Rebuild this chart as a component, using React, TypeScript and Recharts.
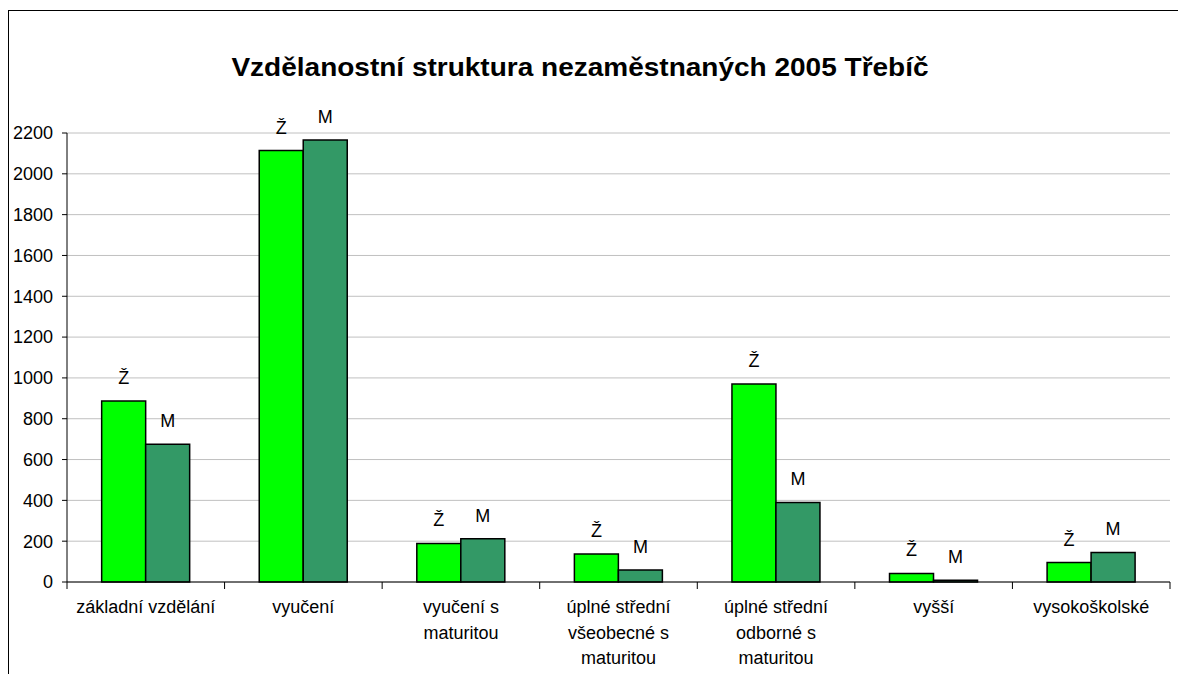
import { BarChart, Bar, XAxis, YAxis, CartesianGrid, LabelList, Text } from 'recharts'

const CATEGORIES = [
  'základní vzdělání',
  'vyučení',
  'vyučení s\nmaturitou',
  'úplné střední\nvšeobecné s\nmaturitou',
  'úplné střední\nodborné s\nmaturitou',
  'vyšší',
  'vysokoškolské',
]
const ZENY = [887, 2114, 189, 137, 970, 42, 95]
const MUZI = [675, 2166, 212, 59, 390, 8, 145]
const Y_TICKS = [0, 200, 400, 600, 800, 1000, 1200, 1400, 1600, 1800, 2000, 2200]

const FONT = '"Liberation Sans", Arial, sans-serif'

const data = CATEGORIES.map((name, i) => ({ name, zeny: ZENY[i], muzi: MUZI[i] }))

function CategoryTick(props: any) {
  const { x, y, payload, width, visibleTicksCount, index } = props
  const band = width / visibleTicksCount
  const lines = String(payload.value).split('\n')
  return (
    <g>
      <line x1={x - band / 2} x2={x - band / 2} y1={y} y2={y + 7} stroke="#000" />
      {index === visibleTicksCount - 1 && (
        <line x1={x + band / 2} x2={x + band / 2} y1={y} y2={y + 7} stroke="#000" />
      )}
      {lines.map((ln, i) => (
        <Text key={i} x={x} y={y + 31 + i * 25.5} textAnchor="middle" fontSize={18} fontFamily={FONT} fill="#000">
          {ln}
        </Text>
      ))}
    </g>
  )
}

export default function App() {
  return (
    <div
      style={{
        position: 'relative',
        marginTop: 2,
        width: 1174,
        height: 680,
        border: '1px solid #000',
        borderBottom: 'none',
        background: '#fff',
      }}
    >
      <div
        style={{
          position: 'absolute',
          left: 0,
          width: 1142,
          top: 41,
          textAlign: 'center',
          fontFamily: FONT,
          fontWeight: 'bold',
          fontSize: 25,
          lineHeight: '30px',
          color: '#000',
          transform: 'scaleX(1.12)',
          transformOrigin: '50% 50%',
        }}
      >
        Vzdělanostní struktura nezaměstnaných 2005 Třebíč
      </div>
      <BarChart
        width={1172}
        height={670}
        data={data}
        margin={{ top: 122, right: 11, left: 0, bottom: 0 }}
        barCategoryGap="22%"
        barGap={0}
      >
        <CartesianGrid horizontal vertical={false} stroke="#c0c0c0" />
        <XAxis
          dataKey="name"
          height={99}
          interval={0}
          tickSize={0}
          tickMargin={0}
          axisLine={{ stroke: '#000' }}
          tickLine={false}
          tick={<CategoryTick />}
        />
        <YAxis
          width={58}
          domain={[0, 2200]}
          ticks={Y_TICKS}
          interval={0}
          tickSize={5}
          tickMargin={9}
          axisLine={{ stroke: '#000' }}
          tickLine={{ stroke: '#000' }}
          tick={{ fontSize: 18, fontFamily: FONT, fill: '#000' }}
        />
        <YAxis
          yAxisId="r"
          orientation="right"
          width={0}
          domain={[0, 1]}
          tick={false}
          tickLine={false}
          axisLine={{ stroke: '#c0c0c0' }}
        />
        <Bar dataKey="zeny" fill="#00ff00" stroke="#000" strokeWidth={1.5} isAnimationActive={false}>
          <LabelList
            dataKey="zeny"
            position="top"
            offset={17}
            formatter={() => 'Ž'}
            style={{ fontSize: 18, fontFamily: FONT, fill: '#000' }}
          />
        </Bar>
        <Bar dataKey="muzi" fill="#339966" stroke="#000" strokeWidth={1.5} isAnimationActive={false}>
          <LabelList
            dataKey="muzi"
            position="top"
            offset={17}
            formatter={() => 'M'}
            style={{ fontSize: 18, fontFamily: FONT, fill: '#000' }}
          />
        </Bar>
      </BarChart>
    </div>
  )
}
